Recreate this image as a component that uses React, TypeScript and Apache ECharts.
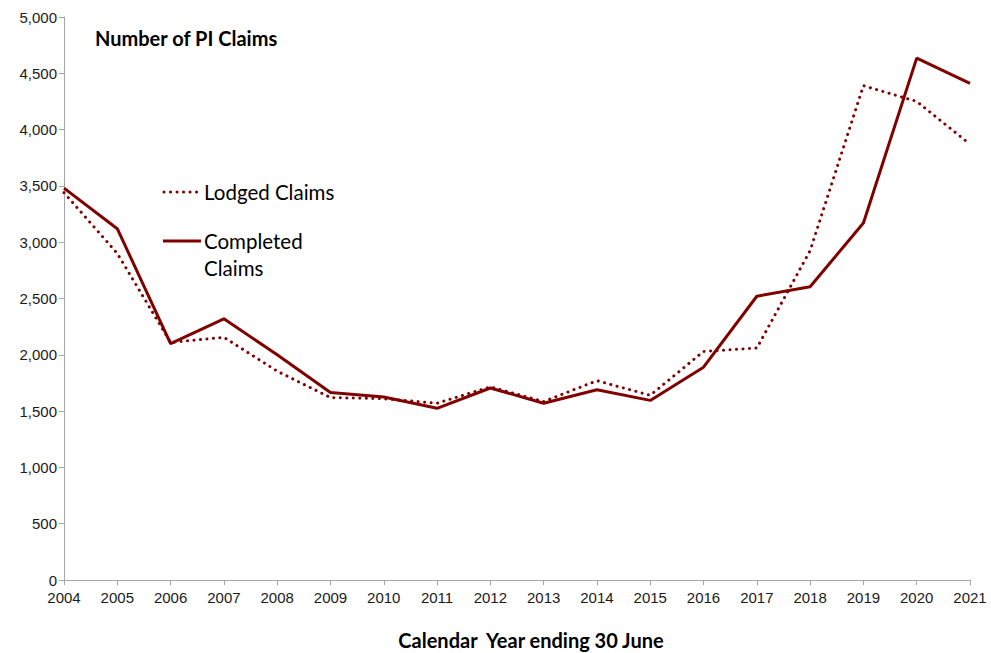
import React, { useEffect, useRef } from "react";
import * as echarts from "echarts";

const years = ["2004","2005","2006","2007","2008","2009","2010","2011","2012","2013","2014","2015","2016","2017","2018","2019","2020","2021"];
const lodgedClaims = [3440, 2900, 2110, 2155, 1855, 1620, 1610, 1570, 1715, 1585, 1770, 1640, 2030, 2060, 2925, 4390, 4250, 3870];
const completedClaims = [3480, 3120, 2100, 2320, 2000, 1665, 1625, 1525, 1705, 1570, 1690, 1595, 1890, 2520, 2605, 3170, 4635, 4410];

const RED = "#800000";
const AXIS_FONT = "'Liberation Sans', Arial, sans-serif";
const TEXT_FONT = "Lato, 'Open Sans', sans-serif";

export default function App() {
  const ref = useRef<HTMLDivElement>(null);
  useEffect(() => {
    const chart = echarts.init(ref.current!, null, { renderer: "svg" });
    chart.setOption({
      animation: false,
      backgroundColor: "#fff",
      grid: { left: 64, right: 21, top: 17, bottom: 73 },
      xAxis: {
        type: "category",
        data: years,
        boundaryGap: false,
        axisLine: { lineStyle: { color: "#a6a6a6", width: 1 } },
        axisTick: { show: true, length: 5, alignWithLabel: true, lineStyle: { color: "#a6a6a6" } },
        axisLabel: { color: "#1a1a1a", fontFamily: AXIS_FONT, fontSize: 15, margin: 10, interval: 0 },
      },
      yAxis: {
        type: "value",
        min: 0,
        max: 5000,
        interval: 500,
        axisLine: { show: true, lineStyle: { color: "#a6a6a6", width: 1 } },
        axisTick: { show: true, length: 5, lineStyle: { color: "#a6a6a6" } },
        splitLine: { show: false },
        axisLabel: {
          color: "#1a1a1a",
          fontFamily: AXIS_FONT,
          fontSize: 15,
          margin: 7,
          formatter: (v: number) => v.toLocaleString("en-US"),
        },
      },
      series: [
        {
          name: "Lodged Claims",
          type: "line",
          data: lodgedClaims,
          symbol: "none",
          lineStyle: { color: RED, width: 3, type: [0.1, 6.4], cap: "round" },
          z: 2,
        },
        {
          name: "Completed Claims",
          type: "line",
          data: completedClaims,
          symbol: "none",
          lineStyle: { color: RED, width: 3 },
          z: 3,
        },
      ],
      graphic: [
        {
          type: "text",
          x: 95,
          y: 38,
          style: { text: "Number of PI Claims", fill: "#000", font: `bold 20px ${TEXT_FONT}`, verticalAlign: "middle" },
        },
        {
          type: "line",
          shape: { x1: 164, y1: 192, x2: 200, y2: 192 },
          style: { stroke: RED, lineWidth: 3, lineDash: [0.1, 6.4], lineCap: "round" },
        },
        {
          type: "text",
          x: 204,
          y: 192,
          style: { text: "Lodged Claims", fill: "#000", font: `20.5px ${TEXT_FONT}`, verticalAlign: "middle" },
        },
        {
          type: "line",
          shape: { x1: 163, y1: 241, x2: 201, y2: 241 },
          style: { stroke: RED, lineWidth: 3 },
        },
        {
          type: "text",
          x: 204,
          y: 241,
          style: { text: "Completed", fill: "#000", font: `20.5px ${TEXT_FONT}`, verticalAlign: "middle" },
        },
        {
          type: "text",
          x: 204,
          y: 268,
          style: { text: "Claims", fill: "#000", font: `20.5px ${TEXT_FONT}`, verticalAlign: "middle" },
        },
        {
          type: "text",
          x: 531,
          y: 640,
          style: {
            text: "Calendar  Year ending 30 June",
            fill: "#000",
            font: `bold 20px ${TEXT_FONT}`,
            align: "center",
            verticalAlign: "middle",
          },
        },
      ],
    });
    return () => chart.dispose();
  }, []);
  return <div ref={ref} style={{ width: 991, height: 653, position: "absolute", left: 0, top: 0 }} />;
}
